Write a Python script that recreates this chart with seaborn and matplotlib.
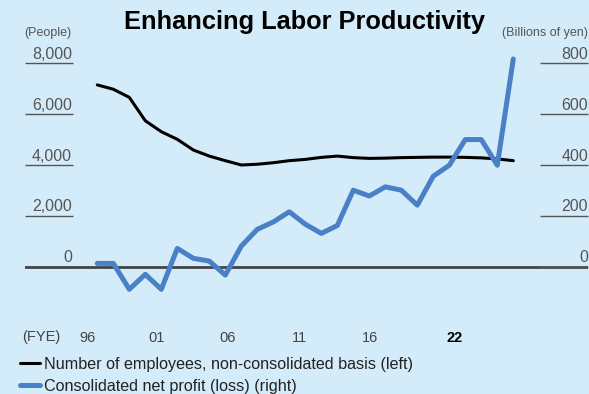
import matplotlib
matplotlib.use("Agg")
import matplotlib.pyplot as plt
import seaborn as sns
import numpy as np
import pandas as pd
from matplotlib.lines import Line2D

years = list(range(1996, 2023))
employees = [7150, 6980, 6660, 5740, 5310, 5010, 4590, 4350, 4170, 4000,
             4030, 4090, 4170, 4220, 4300, 4350, 4290, 4260, 4270, 4290,
             4300, 4310, 4310, 4300, 4280, 4240, 4170]
net_profit = [13, 13, -89, -30, -89, 72, 33, 22, -33, 81,
              147, 176, 216, 167, 131, 162, 301, 278, 314, 301,
              242, 356, 399, 500, 500, 399, 817]

left_ticks = [0, 2000, 4000, 6000, 8000]
left_labels = ["0", "2,000", "4,000", "6,000", "8,000"]
right_ticks = [0, 200, 400, 600, 800]
right_labels = ["0", "200", "400", "600", "800"]
x_tick_pos = [1995.36, 1999.73, 2004.17, 2008.61, 2013.04, 2018.36]
x_tick_labels = ["96", "01", "06", "11", "16", "22"]

BG = "#d4ebf9"
BLUE = "#4a80c6"
GRAY = "#555555"

sns.set_theme(style="white")
plt.rcParams["font.family"] = ["Liberation Sans", "DejaVu Sans"]

W, H = 589, 394
fig = plt.figure(figsize=(W / 100, H / 100), dpi=100, facecolor=BG)

ax_l, ax_r = 25, 588
ax_t, ax_b = 40, 300
ax = fig.add_axes([ax_l / W, 1 - ax_b / H, (ax_r - ax_l) / W, (ax_b - ax_t) / H])
ax.set_facecolor(BG)
ax2 = ax.twinx()

df = pd.DataFrame({"year": years, "emp": employees, "profit": net_profit})

sns.lineplot(data=df, x="year", y="emp", ax=ax, color="black", lw=2.2,
             label="Number of employees, non-consolidated basis (left)", legend=False)
sns.lineplot(data=df, x="year", y="profit", ax=ax2, color=BLUE, lw=3.6,
             label="Consolidated net profit (loss) (right)", legend=False)
ax2.set_zorder(ax.get_zorder() + 1)
ax.patch.set_visible(True)
ax2.patch.set_visible(False)

px_per_year = 16.0
x0_px = 97.3
xmin = 1996 + (ax_l - x0_px) / px_per_year
xmax = 1996 + (ax_r - x0_px) / px_per_year
ax.set_xlim(xmin, xmax)

zero_px = 266.7
ppp = 203.4 / 8000  # px per person
ylo = -(ax_b - zero_px) / ppp
yhi = (zero_px - ax_t) / ppp
ax.set_ylim(ylo, yhi)
ax2.set_ylim(ylo / 10, yhi / 10)

for a in (ax, ax2):
    for s in a.spines.values():
        s.set_visible(False)
    a.set_xlabel("")
    a.set_ylabel("")

ax.axhline(0, color="#444444", lw=2.0, zorder=1)

tick_len_pt = 48 * 0.72
ax.set_yticks(left_ticks)
ax.set_yticklabels([])
ax.tick_params(axis="y", direction="in", length=tick_len_pt, width=1.0, color=GRAY, left=True, right=False)
ax2.set_yticks(right_ticks)
ax2.set_yticklabels([])
ax2.tick_params(axis="y", direction="in", length=tick_len_pt, width=1.0, color=GRAY, right=True, left=False)

for v, lab in zip(left_ticks, left_labels):
    ax.annotate(lab, xy=((72 - ax_l) / (ax_r - ax_l), v), xycoords=ax.get_yaxis_transform(),
                xytext=(0, 1), textcoords="offset points", ha="right", va="bottom",
                fontsize=11.5, color=GRAY)
for v, lab in zip(right_ticks, right_labels):
    ax2.annotate(lab, xy=(1.0, v), xycoords=ax2.get_yaxis_transform(),
                 xytext=(0, 1), textcoords="offset points", ha="right", va="bottom",
                 fontsize=11.5, color=GRAY)

ax.set_xticks(x_tick_pos)
ax.set_xticklabels(x_tick_labels, fontsize=10.5, color="#444444")
ax.tick_params(axis="x", length=0, pad=22)
ax.get_xticklabels()[-1].set_fontweight("bold")
ax.get_xticklabels()[-1].set_color("black")

fig.text(22 / W, 1 - 337 / H, "(FYE)", fontsize=10.5, color="#444444", ha="left", va="center")
fig.text(24 / W, 1 - 33 / H, "(People)", fontsize=9, color=GRAY, ha="left", va="center")
fig.text(588 / W, 1 - 33 / H, "(Billions of yen)", fontsize=9, color=GRAY, ha="right", va="center")
fig.text(304 / W, 1 - 22 / H, "Enhancing Labor Productivity", fontsize=18.3, fontweight="bold",
         color="black", ha="center", va="center")

l1 = ax.get_legend_handles_labels()[1]
l2 = ax2.get_legend_handles_labels()[1]
handles = [Line2D([], [], color="black", lw=2.2), Line2D([], [], color=BLUE, lw=3.6)]
fig.legend(handles, l1 + l2, loc="upper left", bbox_to_anchor=(20 / W, 1 - 357 / H),
           frameon=False, fontsize=11.6, handlelength=1.25, handletextpad=0.25,
           labelspacing=0.42, borderpad=0, borderaxespad=0, labelcolor="#222222")

fig.savefig("out.png", dpi=100, facecolor=BG)
